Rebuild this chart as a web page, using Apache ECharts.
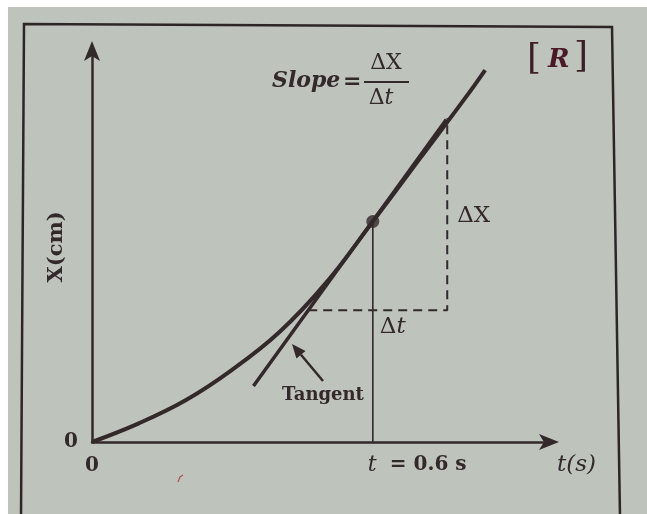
<!DOCTYPE html>
<html>
<head>
<meta charset="utf-8">
<script src="https://cdn.jsdelivr.net/npm/echarts@6/dist/echarts.min.js"></script>
<style>
  html, body { margin: 0; padding: 0; background: #ffffff; }
  #chart { width: 647px; height: 514px; }
</style>
</head>
<body>
<div id="chart"></div>
<script>
// Position–time curve, x in cm against t in s
const curveT = [0, 0.1, 0.2, 0.3, 0.4, 0.5, 0.6, 0.7, 0.8, 0.84];
const curveX = [0, 1.7, 3.8, 6.6, 10.0, 14.5, 20.1, 25.8, 31.5, 33.9];

// Point where the tangent touches the curve
const pointT = 0.6;
const pointX = 20.1;

// Tangent line end points
const tangentT = [0.345, 0.757];
const tangentX = [5.1, 29.4];

// Rise / run triangle (dashed)
const triangleT = [0.462, 0.759, 0.759];
const triangleX = [12.0, 12.0, 29.5];

// Axis ranges
const tMax = 0.985;
const xMax = 36;

const INK = '#33282a';
const SERIF = '"DejaVu Serif", "Liberation Serif", serif';

const chart = echarts.init(document.getElementById('chart'), null, { renderer: 'canvas' });

const zip = (a, b) => a.map((v, i) => [v, b[i]]);

const axisCommon = {
  type: 'value',
  splitLine: { show: false },
  axisTick: { show: false },
  axisLine: {
    show: true,
    symbol: ['none', 'arrow'],
    symbolSize: [12, 20],
    symbolOffset: [0, 6],
    lineStyle: { color: INK, width: 2.5 }
  },
  axisLabel: {
    show: true,
    color: INK,
    fontFamily: SERIF,
    fontWeight: 'bold',
    fontSize: 20,
    formatter: v => (v === 0 ? '0' : '')
  }
};

chart.setOption({
  backgroundColor: '#ffffff',
  animation: false,
  grid: { left: 92, top: 47, width: 461, height: 395, containLabel: false },
  xAxis: Object.assign({}, axisCommon, {
    min: 0, max: tMax, interval: 0.2,
    axisLabel: Object.assign({}, axisCommon.axisLabel, { margin: 14 })
  }),
  yAxis: Object.assign({}, axisCommon, {
    min: 0, max: xMax, interval: 6,
    axisLabel: Object.assign({}, axisCommon.axisLabel, { margin: 14 })
  }),
  series: [
    {
      name: 'drop line',
      type: 'line',
      data: [[pointT, -0.6], [pointT, pointX]],
      symbol: 'none',
      lineStyle: { color: INK, width: 1.6 },
      z: 3
    },
    {
      name: 'triangle',
      type: 'line',
      data: zip(triangleT, triangleX),
      symbol: 'none',
      lineStyle: { color: INK, width: 2, type: [9, 6] },
      z: 3
    },
    {
      name: 'tangent',
      type: 'line',
      data: zip(tangentT, tangentX),
      symbol: 'none',
      lineStyle: { color: INK, width: 3.5 },
      z: 4
    },
    {
      name: 'x(t)',
      type: 'line',
      data: zip(curveT, curveX),
      smooth: 0.4,
      symbol: 'none',
      lineStyle: { color: INK, width: 4 },
      z: 5
    },
    {
      name: 'point',
      type: 'scatter',
      data: [[pointT, pointX]],
      symbolSize: 13,
      itemStyle: { color: '#35292a' },
      z: 6
    }
  ]
});

// Annotations placed from the data coordinates where they belong
const px = (t, x) => chart.convertToPixel({ gridIndex: 0 }, [t, x]);
const tick = px(pointT, 0);
const dxLbl = px(triangleT[1], (triangleX[1] + triangleX[2]) / 2);
const dtLbl = px(pointT, triangleX[0]);

const txt = (x, y, text, size, opts) => ({
  type: 'text', x, y, z: 20,
  style: Object.assign({
    text, fill: INK, font: `bold ${size}px ${SERIF}`,
    textAlign: 'left', textVerticalAlign: 'middle'
  }, opts || {})
});

// "Δ" followed by a symbol, the t set in italics
const delta = (x, y, sym, size, align) => ({
  type: 'text', x, y, z: 20,
  style: {
    text: `{d|Δ}{s|${sym}}`,
    textAlign: align || 'left', textVerticalAlign: 'middle',
    rich: {
      d: { fill: INK, font: `${size}px ${SERIF}` },
      s: { fill: INK, font: `${sym === 't' ? 'italic ' : ''}${size}px ${SERIF}` }
    }
  }
});

// arrow pointing at the tangent line
const tail = [323, 381], head = [292, 344];
const ang = Math.atan2(head[1] - tail[1], head[0] - tail[0]);
const hl = 14, hw = 6;
const bx = head[0] - hl * Math.cos(ang), by = head[1] - hl * Math.sin(ang);
const arrowHead = [
  head,
  [bx + hw * Math.sin(ang), by - hw * Math.cos(ang)],
  [bx - hw * Math.sin(ang), by + hw * Math.cos(ang)]
];

chart.setOption({
  graphic: [
    // paper
    { type: 'rect', z: -10, silent: true, shape: { x: 8, y: 7, width: 647, height: 514 },
      style: { fill: '#bec3bc' } },
    // frame
    { type: 'polygon', z: -5, shape: { points: [[24, 24], [612, 27], [620, 516], [21, 518]] },
      style: { fill: null, stroke: '#2e2527', lineWidth: 2.5 } },

    // axis titles
    txt(557, 465, 't(s)', 23, { font: `italic ${23}px ${SERIF}`, textAlign: 'left' }),
    { type: 'text', x: 57, y: 247, rotation: Math.PI / 2, z: 20,
      style: { text: 'X(cm)', fill: INK, font: `bold 21px ${SERIF}`,
        textAlign: 'center', textVerticalAlign: 'middle' } },

    // t = 0.6 s
    txt(tick[0] - 5, tick[1] + 23, 't', 22, { font: `italic 22px ${SERIF}` }),
    txt(tick[0] + 17, tick[1] + 23, '= 0.6 s', 20),

    // slope formula
    txt(272, 81, 'Slope', 22, { font: `bold italic 22px ${SERIF}` }),
    txt(343, 82, '=', 22),
    delta(386, 63, 'X', 22, 'center'),
    { type: 'line', z: 20, shape: { x1: 364, y1: 82, x2: 409, y2: 82 },
      style: { stroke: INK, lineWidth: 2.2 } },
    delta(381, 98, 't', 22, 'center'),

    // triangle labels
    delta(dxLbl[0] + 10, dxLbl[1] + 2, 'X', 23),
    delta(dtLbl[0] + 7, dtLbl[1] + 17, 't', 23),

    // tangent label and arrow
    txt(323, 395, 'Tangent', 18, { textAlign: 'center' }),
    { type: 'line', z: 20, shape: { x1: tail[0], y1: tail[1], x2: bx, y2: by },
      style: { stroke: INK, lineWidth: 2.5 } },
    { type: 'polygon', z: 20, shape: { points: arrowHead }, style: { fill: INK } },

    // margin note
    txt(527, 60, '[', 36, { font: `36px ${SERIF}`, fill: '#3d1e27' }),
    txt(548, 60, 'R', 26, { font: `bold italic 26px ${SERIF}`, fill: '#4a1a28' }),
    txt(574, 58, ']', 36, { font: `36px ${SERIF}`, fill: '#3d1e27' }),
    { type: 'polyline', z: 20, shape: { points: [[178, 482], [180, 477], [183, 475]] },
      style: { stroke: '#b05050', lineWidth: 1.2, fill: null } }
  ]
});
</script>
</body>
</html>
